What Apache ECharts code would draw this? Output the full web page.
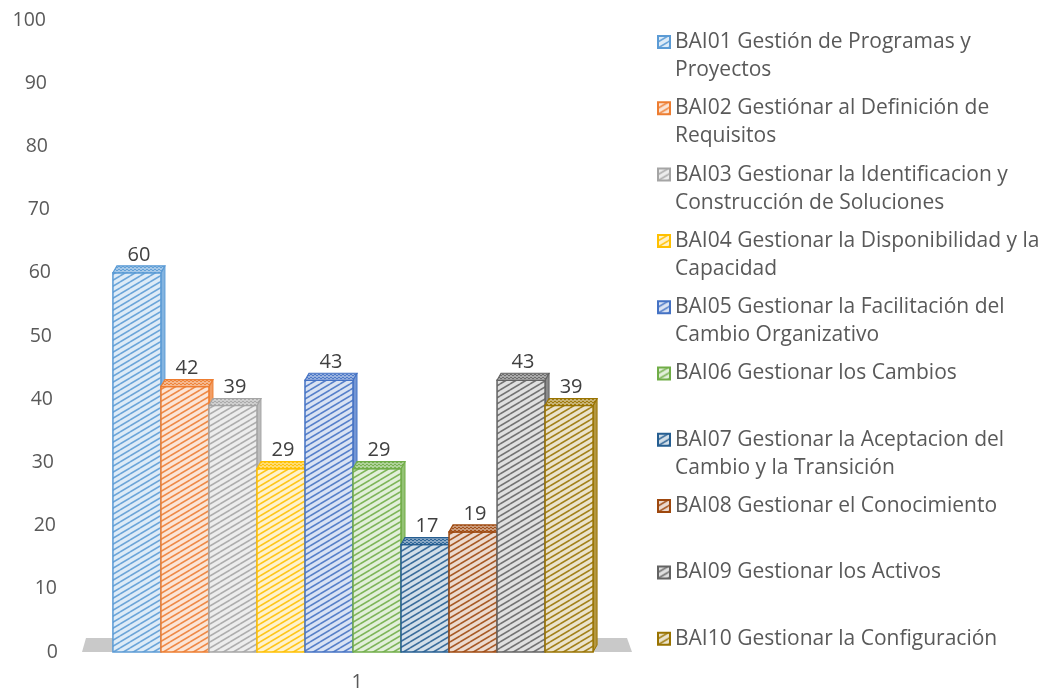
<!DOCTYPE html>
<html>
<head>
<meta charset="utf-8">
<script src="https://cdn.jsdelivr.net/npm/echarts@6/dist/echarts.min.js"></script>
<style>
html,body{margin:0;padding:0;background:#fff}
#main{width:1045px;height:693px}
</style>
</head>
<body>
<div id="main"></div>
<script>
var categories = ['1'];
var seriesNames = [
	'BAI01 Gestión de Programas y Proyectos',
	'BAI02 Gestiónar al Definición de Requisitos',
	'BAI03 Gestionar la Identificacion y Construcción de Soluciones',
	'BAI04 Gestionar la Disponibilidad y la Capacidad',
	'BAI05 Gestionar la Facilitación del Cambio Organizativo',
	'BAI06 Gestionar los Cambios',
	'BAI07 Gestionar la Aceptacion del Cambio y la Transición',
	'BAI08 Gestionar el Conocimiento',
	'BAI09 Gestionar los Activos',
	'BAI10 Gestionar la Configuración'
];
// where each legend entry wraps
var legendLines = [
	['BAI01 Gestión de Programas y', 'Proyectos'],
	['BAI02 Gestiónar al Definición de', 'Requisitos'],
	['BAI03 Gestionar la Identificacion y', 'Construcción de Soluciones'],
	['BAI04 Gestionar la Disponibilidad y la', 'Capacidad'],
	['BAI05 Gestionar la Facilitación del', 'Cambio Organizativo'],
	['BAI06 Gestionar los Cambios', ''],
	['BAI07 Gestionar la Aceptacion del', 'Cambio y la Transición'],
	['BAI08 Gestionar el Conocimiento', ''],
	['BAI09 Gestionar los Activos', ''],
	['BAI10 Gestionar la Configuración', '']
];
var values = [60, 42, 39, 29, 43, 29, 17, 19, 43, 39];
var colors = ['#5B9BD5', '#ED7D31', '#A5A5A5', '#FFC000', '#4472C4',
	'#70AD47', '#255E91', '#9E480E', '#636363', '#997300'];

var FONT = '"Open Sans", sans-serif';
var DX = 4, DY = 7;      // 3d depth offset
var BAR_RATIO = 0.873;   // share of the category band used by the bars

function mix(hex, t){
	// t = 0 -> color, t = 1 -> white
	var r = parseInt(hex.substr(1,2),16), g = parseInt(hex.substr(3,2),16), b = parseInt(hex.substr(5,2),16);
	r = Math.round(r + (255-r)*t); g = Math.round(g + (255-g)*t); b = Math.round(b + (255-b)*t);
	return 'rgb(' + r + ',' + g + ',' + b + ')';
}

function stripePattern(c, bgT, lineT, w){
	var cv = document.createElement('canvas');
	cv.width = 10; cv.height = 6;
	var ctx = cv.getContext('2d');
	ctx.fillStyle = mix(c, bgT);
	ctx.fillRect(0, 0, 10, 6);
	ctx.strokeStyle = mix(c, lineT);
	ctx.lineWidth = w;
	for(var k=-1;k<=1;k++){
		ctx.beginPath();
		ctx.moveTo(0, 6 + k*6);
		ctx.lineTo(10, k*6);
		ctx.stroke();
	}
	return {image: cv, repeat: 'repeat'};
}

function topPattern(c){
	var cv = document.createElement('canvas');
	cv.width = 4; cv.height = 3;
	var ctx = cv.getContext('2d');
	ctx.fillStyle = mix(c, 0.45);
	ctx.fillRect(0, 0, 4, 3);
	ctx.fillStyle = mix(c, 0.05);
	ctx.fillRect(0, 0, 2, 1);
	ctx.fillRect(2, 2, 2, 1);
	return {image: cv, repeat: 'repeat'};
}

var frontFills = colors.map(function(c){ return stripePattern(c, 0.8, 0.1, 1.6); });
var topFills = colors.map(topPattern);

var n = seriesNames.length;
var series = [];

// grey floor under the bars
series.push({
	type: 'custom',
	name: 'floor',
	silent: true,
	z: 1,
	data: [[0, 0]],
	renderItem: function(params, api){
		var base = api.coord([0, 0]);
		var band = api.size([1, 0])[0];
		var l = base[0] - band/2, r = base[0] + band/2;
		return {
			type: 'polygon',
			shape: {points: [[l, base[1]], [l+4, base[1]-14], [r-5, base[1]-14], [r, base[1]]]},
			style: {fill: '#C9C9C9'}
		};
	}
});

for(var i=0;i<n;i++){
	series.push({
		type: 'custom',
		name: seriesNames[i],
		z: 2,
		itemStyle: {color: frontFills[i], borderColor: colors[i], borderWidth: 1},
		data: [[0, values[i]]],
		renderItem: function(params, api){
			var idx = params.seriesIndex - 1;
			var base = api.coord([0, 0]);
			var top = api.coord([0, api.value(1)]);
			var band = api.size([1, 0])[0];
			var w = band * BAR_RATIO / n;
			var x0 = base[0] - w*n/2 - DX + idx*w;
			var yb = base[1], yt = top[1];
			var c = colors[idx];
			return {
				type: 'group',
				children: [
					{
						type: 'polygon',
						shape: {points: [[x0+w, yt], [x0+w+DX, yt-DY], [x0+w+DX, yb-DY], [x0+w, yb]]},
						style: {fill: mix(c, 0.25), stroke: c, lineWidth: 1}
					},
					{
						type: 'rect',
						shape: {x: x0, y: yt, width: w, height: yb-yt},
						style: {fill: frontFills[idx], stroke: c, lineWidth: 1.5}
					},
					{
						type: 'polygon',
						shape: {points: [[x0, yt], [x0+DX, yt-DY], [x0+w+DX, yt-DY], [x0+w, yt]]},
						style: {fill: topFills[idx], stroke: c, lineWidth: 1.2}
					},
					{
						type: 'text',
						style: {
							text: String(api.value(1)),
							x: x0 + w/2 + DX/2,
							y: yt - DY - 1,
							align: 'center',
							verticalAlign: 'bottom',
							fill: '#404040',
							font: '20px ' + FONT
						}
					}
				]
			};
		}
	});
}

var rich = {};
for(var v=0; v<=100; v+=10){
	rich['p' + v] = {padding: [0, Math.round(12*v/100), 0, 0], fontSize: 19.5, color: '#595959', fontFamily: 'Open Sans'};
}

var option = {
	animation: false,
	backgroundColor: '#ffffff',
	textStyle: {fontFamily: FONT},
	grid: {left: 82, right: 413, top: 20, bottom: 41},
	xAxis: {
		type: 'category',
		data: categories,
		axisLine: {show: false},
		axisTick: {show: false},
		axisLabel: {color: '#595959', fontSize: 19.5, margin: 20}
	},
	yAxis: {
		type: 'value',
		min: 0, max: 100, interval: 10,
		axisLine: {show: false},
		axisTick: {show: false},
		splitLine: {show: false},
		axisLabel: {
			margin: 24,
			formatter: function(val){ return '{p' + val + '|' + val + '}'; },
			rich: rich
		}
	},
	legend: {
		orient: 'vertical',
		left: 657,
		top: 0,
		padding: 0,
		itemGap: -17.7,
		itemWidth: 12,
		itemHeight: 12,
		icon: 'rect',
		data: seriesNames,
		textStyle: {fontSize: 21, lineHeight: 28, color: '#595959', fontFamily: 'Open Sans'},
		formatter: function(name){
			var l = legendLines[seriesNames.indexOf(name)];
			return '\n' + l[0] + '\n' + l[1];
		}
	},
	series: series
};

var chart = echarts.init(document.getElementById('main'));
chart.setOption(option);
</script>
</body>
</html>
